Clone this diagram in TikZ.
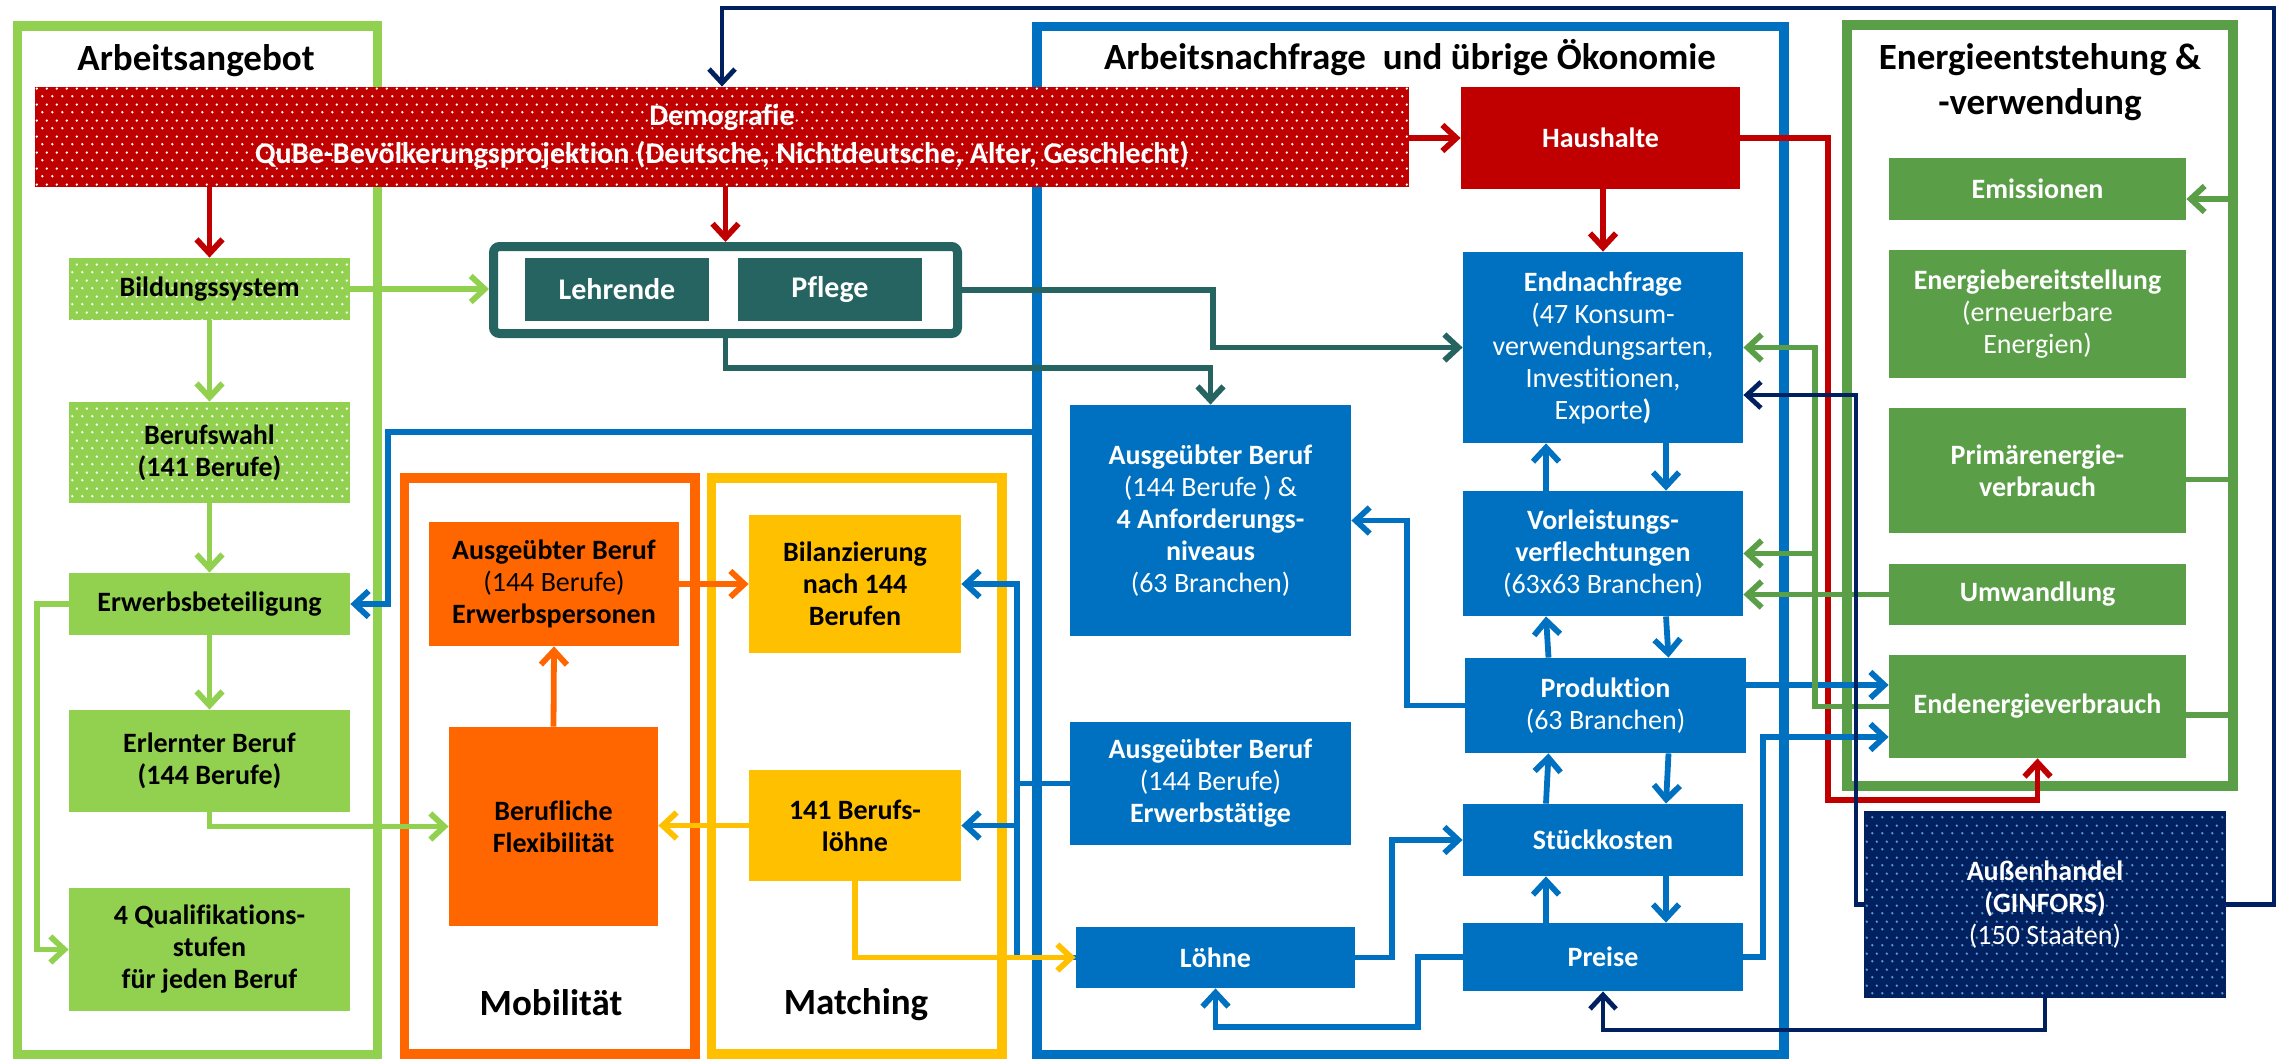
\documentclass[tikz,border=0pt]{standalone}
\usepackage{fontspec}
\setmainfont{Carlito}[Ligatures=NoCommon]
\usetikzlibrary{arrows.meta,patterns}
\definecolor{lgreen}{HTML}{92D050}
\definecolor{dred}{HTML}{C00000}
\definecolor{qblue}{HTML}{0070C0}
\definecolor{egreen}{HTML}{5A9F48}
\definecolor{qteal}{HTML}{266462}
\definecolor{qorange}{HTML}{FF6600}
\definecolor{qyellow}{HTML}{FFC000}
\definecolor{qnavy}{HTML}{002060}
\definecolor{ldot}{HTML}{5B9BD5}
\pgfdeclarepatternformonly{qdots}{\pgfqpoint{0pt}{0pt}}{\pgfqpoint{5pt}{8pt}}{\pgfqpoint{5pt}{8pt}}{%
  \pgfpathcircle{\pgfqpoint{1.25pt}{2pt}}{0.7pt}%
  \pgfpathcircle{\pgfqpoint{3.75pt}{6pt}}{0.7pt}%
  \pgfusepath{fill}}
\newcommand\bxfont{\fontsize{14}{16}\selectfont}
\newcommand\ttlfont{\fontsize{18.5}{22.5}\selectfont\bfseries}
\newcommand\qbox[7]{%
  \pgfmathsetmacro\qcx{(#3+#4)/2}%
  \pgfmathsetmacro\qcy{(#5+#6)/2}%
  \pgfmathsetmacro\qw{(#4-#3)*0.5}%
  \pgfmathsetmacro\qh{(#6-#5)*0.5}%
  \node[#2, minimum width=\qw pt, minimum height=\qh pt] (#1) at (\qcx,\qcy) {#7};%
}
\begin{document}
\begin{tikzpicture}[x=0.5pt,y=-0.5pt,
  every node/.style={inner sep=0pt, align=center},
  frm/.style={draw=#1, line width=4.75pt},
  bx/.style={fill=#1, text=white, font=\bxfont\bfseries},
  bxk/.style={fill=#1, text=black, font=\bxfont\bfseries},
  dotfill/.style={postaction={pattern=qdots, pattern color=#1}},
  ttl/.style={font=\ttlfont, text=black},
  con/.style={line width=2.9pt, line join=miter},
  arr/.style={con, -{Straight Barb[length=7pt,width=13pt]}},
  narr/.style={line width=2.4pt, line join=miter, -{Straight Barb[length=7pt,width=13pt]}}
]
\useasboundingbox (0,0) rectangle (2285,1060);

% frames
\qbox{FA}{frm=lgreen}{17.25}{377.25}{25.75}{1054.25}{}
\qbox{FB}{frm=qblue}{1037}{1784}{26.5}{1054.5}{}
\qbox{FE}{frm=egreen}{1847}{2233}{25}{786}{}
\qbox{FO}{frm=qorange}{404.5}{695}{478}{1054}{}
\qbox{FY}{frm=qyellow}{711.5}{1002}{478}{1054}{}
\qbox{grp}{draw=qteal, line width=4.5pt, rounded corners=3pt, fill=white}{493.5}{957.5}{246.5}{333.5}{}

% titles
\node[ttl] (tA) at (196,61) {Arbeitsangebot};
\node[ttl] (tB) at (1410,58) {Arbeitsnachfrage\ \ und übrige Ökonomie};
\node[ttl] (tE) at (2040,82) {Energieentstehung \&\\-verwendung};
\node[ttl] (tM) at (551,1003) {Mobilität};
\node[ttl] (tMa) at (856,1005) {Matching};

% boxes
\qbox{Demo}{bx=dred, dotfill=white, font=\fontsize{15}{19}\selectfont\bfseries}{35}{1409}{87}{187}{Demografie\\QuBe-Bevölkerungsprojektion (Deutsche, Nichtdeutsche, Alter, Geschlecht)}
\qbox{Haus}{bx=dred}{1461}{1740}{87}{189}{Haushalte}

\qbox{Bild}{bxk=lgreen, dotfill=white}{69}{350}{258}{320}{Bildungssystem}
\qbox{Beruf}{bxk=lgreen, dotfill=white}{69}{350}{402}{503}{Berufswahl\\(141 Berufe)}
\qbox{Erw}{bxk=lgreen}{69}{350}{573}{635}{Erwerbsbeteiligung}
\qbox{Erl}{bxk=lgreen}{69}{350}{710}{812}{Erlernter Beruf\\(144 Berufe)}
\qbox{Quali}{bxk=lgreen}{69}{350}{888}{1011}{4 Qualifikations-\\stufen\\für jeden Beruf}

\qbox{Lehr}{bx=qteal, font=\fontsize{15}{17}\selectfont\bfseries}{525}{709}{258}{321}{Lehrende}
\qbox{Pfl}{bx=qteal, font=\fontsize{15}{17}\selectfont\bfseries}{738}{922}{258}{321}{Pflege}

\qbox{ErwP}{bxk=qorange}{429}{679}{522}{646}{Ausgeübter Beruf\\{\mdseries (144 Berufe)}\\Erwerbspersonen}
\qbox{Flex}{bxk=qorange}{449}{658}{727}{926}{Berufliche\\Flexibilität}
\qbox{Bil}{bxk=qyellow}{749}{961}{515}{653}{Bilanzierung\\nach 144\\Berufen}
\qbox{Loh141}{bxk=qyellow}{749}{961}{770}{881}{141 Berufs-\\löhne}

\qbox{AusA}{bx=qblue}{1070}{1351}{405}{636}{Ausgeübter Beruf\\{\mdseries (144 Berufe ) \&}\\4 Anforderungs-\\niveaus\\{\mdseries (63 Branchen)}}
\qbox{AusE}{bx=qblue}{1070}{1351}{722}{845}{Ausgeübter Beruf\\{\mdseries (144 Berufe)}\\Erwerbstätige}
\qbox{Loehne}{bx=qblue}{1076}{1355}{927}{988}{Löhne}

\qbox{End}{bx=qblue}{1463}{1743}{252}{443}{Endnachfrage\\{\mdseries (47 Konsum-}\\{\mdseries verwendungsarten,}\\{\mdseries Investitionen,}\\{\mdseries Exporte}{)}}
\qbox{Vorl}{bx=qblue}{1463}{1743}{491}{616}{Vorleistungs-\\verflechtungen\\{\mdseries (63x63 Branchen)}}
\qbox{Prod}{bx=qblue}{1465}{1746}{658}{753}{Produktion\\{\mdseries (63 Branchen)}}
\qbox{Stk}{bx=qblue}{1463}{1743}{804}{876}{Stückkosten}
\qbox{Preis}{bx=qblue}{1463}{1743}{923}{991}{Preise}

\qbox{Emis}{bx=egreen}{1889}{2186}{158}{220}{Emissionen}
\qbox{Ebt}{bx=egreen}{1889}{2186}{250}{378}{Energiebereitstellung\\{\mdseries (erneuerbare}\\{\mdseries Energien)}}
\qbox{Prim}{bx=egreen}{1889}{2186}{408}{533}{Primärenergie-\\verbrauch}
\qbox{Umw}{bx=egreen}{1889}{2186}{564}{625}{Umwandlung}
\qbox{End2}{bx=egreen}{1889}{2186}{655}{758}{Endenergieverbrauch}
\qbox{Aus}{bx=qnavy, dotfill=ldot}{1864}{2226}{811}{998}{Außenhandel\\(GINFORS)\\{\mdseries (150 Staaten)}}

% helper coordinates
\coordinate (bA) at (1032,432);
\coordinate (jB) at (1017,825.5);
\coordinate (jG) at (1815,553.5);

% red
\draw[arr, dred] (Demo.south -| Bild.north) -- (Bild.north);
\draw[arr, dred] (Demo.south -| grp.north) -- (grp.north);
\draw[arr, dred] (Demo.east |- Haus.west) -- (Haus.west);
\draw[arr, dred] (Haus.south -| End.north) -- (End.north);
\draw[arr, dred] (Haus.east) -- (1828,138) -- (1828,800) -- (2037.5,800) -- (End2.south);

% light green
\draw[arr, lgreen] (Bild.east) -- (Bild.east -| grp.west);
\draw[arr, lgreen] (Bild.south) -- (Beruf.north);
\draw[arr, lgreen] (Beruf.south) -- (Erw.north);
\draw[arr, lgreen] (Erw.south) -- (Erl.north);
\draw[arr, lgreen] (Erw.west) -- (37,604) -- (37,949.5) -- (Quali.west);
\draw[arr, lgreen] (Erl.south) -- (209.5,826.5) -- (Flex.west);

% teal
\draw[arr, qteal] (grp.east) -- (1213,290) -- (1213,347.5) -- (End.west);
\draw[arr, qteal] (grp.south) -- (725.5,368) -- (1210.5,368) -- (AusA.north);

% blue to Erwerbsbeteiligung
\draw[arr, qblue] (bA) -- (388,432) -- (388,604) -- (Erw.east);

% orange
\draw[arr, qorange] (ErwP.east) -- (Bil.west);
\draw[arr, qorange] (Flex.north) -- (ErwP.south);

% blue matching connectors
\draw[arr, qblue] (Loehne.west) -- (1017,957.5) -- (1017,584) -- (Bil.east);
\draw[con, qblue] (AusE.west) -- (1017,783.5);
\draw[arr, qblue] (jB) -- (Loh141.east);

% yellow
\draw[arr, qyellow] (Loh141.west) -- (Loh141.west -| Flex.east);
\draw[arr, qyellow] (Loh141.south) -- (855,957.5) -- (Loehne.west);

% blue column
\draw[arr, qblue] (Prod.west) -- (1407,705.5) -- (1407,520.5) -- (AusA.east);
\foreach \a/\b in {End/Vorl, Vorl/Prod, Prod/Stk, Stk/Preis}{
  \draw[arr, qblue] ([xshift=-28.5pt]\b.north) -- ([xshift=-28.5pt]\a.south);
  \draw[arr, qblue] ([xshift=31.5pt]\a.south) -- ([xshift=31.5pt]\b.north);
}
\draw[arr, qblue] (Loehne.east) -- (1392,957.5) -- (1392,840) -- (Stk.west);
\draw[arr, qblue] (Preis.west) -- (1418,957) -- (1418,1027) -- (1215.5,1027) -- (Loehne.south);
\draw[arr, qblue] ([yshift=10.25pt]Prod.east) -- ([yshift=10.25pt]Prod.east -| End2.west);
\draw[arr, qblue] (Preis.east) -- (1763,957) -- (1763,737) -- ([yshift=-15.25pt]End2.west);

% energy green
\draw[arr, egreen] (Umw.west) -- (Umw.west -| Vorl.east);
\draw[arr, egreen] (End2.west) -- (1815,706.5) -- (1815,347.5) -- (End.east);
\draw[arr, egreen] (jG) -- (Vorl.east);
\draw[arr, egreen] ([yshift=-4.5pt]Prim.east) -- (2233,479.5) -- (2233,199) -- ([yshift=-5pt]Emis.east);
\draw[con, egreen] ([yshift=-4.25pt]End2.east) -- (2233,715);

% navy
\draw[narr, qnavy] (Aus.west) -- (1856,904.5) -- (1856,395) -- ([yshift=-23.75pt]End.east);
\draw[narr, qnavy] (Aus.east) -- (2274,904.5) -- (2274,8) -- (722,8) -- (Demo.north);
\draw[narr, qnavy] (Aus.south) -- (2045,1030) -- (1603,1030) -- (Preis.south);
\end{tikzpicture}
\end{document}
